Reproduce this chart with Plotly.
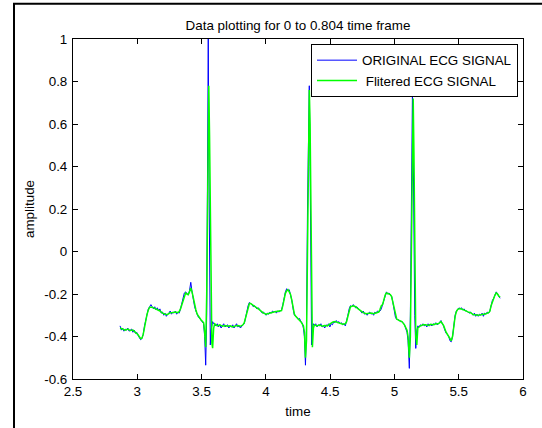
import plotly.graph_objects as go

# ---------------- data ----------------
blue_time = []
blue_amp = []
# baseline before first beat
blue_time += [2.866, 2.876, 2.886, 2.896, 2.906, 2.916, 2.926, 2.936, 2.946, 2.956, 2.966, 2.976, 2.986, 2.996]
blue_amp += [-0.35, -0.37, -0.36, -0.375, -0.365, -0.37, -0.36, -0.375, -0.37, -0.365, -0.38, -0.37, -0.385, -0.38]
blue_time += [3.006, 3.016, 3.026, 3.036, 3.046, 3.056, 3.066, 3.076, 3.086, 3.096, 3.106]
blue_amp += [-0.395, -0.405, -0.415, -0.41, -0.39, -0.35, -0.32, -0.29, -0.27, -0.26, -0.25]
blue_time += [3.116, 3.126, 3.136, 3.146, 3.156, 3.166, 3.176, 3.186, 3.196, 3.206, 3.216, 3.226, 3.236, 3.246, 3.256, 3.266, 3.276, 3.286, 3.296, 3.306, 3.316, 3.326]
blue_amp += [-0.26, -0.27, -0.26, -0.275, -0.265, -0.28, -0.27, -0.29, -0.285, -0.30, -0.29, -0.305, -0.295, -0.29, -0.28, -0.295, -0.285, -0.29, -0.28, -0.295, -0.285, -0.29]
blue_time += [3.336, 3.346, 3.356, 3.366, 3.376, 3.386, 3.396, 3.406, 3.416, 3.426, 3.436, 3.446, 3.456, 3.466, 3.476, 3.486, 3.496, 3.506, 3.516]
blue_amp += [-0.27, -0.24, -0.21, -0.195, -0.19, -0.2, -0.205, -0.185, -0.145, -0.19, -0.23, -0.26, -0.28, -0.30, -0.31, -0.315, -0.325, -0.33, -0.34]
# QRS 1
blue_time += [3.524, 3.532, 3.540, 3.548, 3.552, 3.556, 3.562, 3.568, 3.574, 3.580, 3.586, 3.594, 3.602]
blue_amp += [-0.40, -0.535, -0.30, 0.6, 1.0, 0.5, -0.1, -0.44, -0.37, -0.34, -0.33, -0.34, -0.345]
blue_time += [3.612, 3.622, 3.632, 3.642, 3.652, 3.662, 3.672, 3.682, 3.692, 3.702, 3.712, 3.722, 3.732, 3.742, 3.752, 3.762, 3.772, 3.782, 3.792, 3.802, 3.812, 3.822]
blue_amp += [-0.35, -0.34, -0.355, -0.345, -0.36, -0.35, -0.34, -0.355, -0.35, -0.345, -0.36, -0.35, -0.355, -0.345, -0.36, -0.35, -0.34, -0.355, -0.35, -0.36, -0.35, -0.345]
blue_time += [3.832, 3.842, 3.852, 3.862, 3.872, 3.882, 3.892, 3.902, 3.912, 3.922, 3.932, 3.942, 3.952, 3.962, 3.972, 3.982, 3.992, 4.002, 4.012, 4.022, 4.032, 4.042, 4.052, 4.062, 4.072, 4.082, 4.092, 4.102, 4.112, 4.122]
blue_amp += [-0.34, -0.31, -0.28, -0.255, -0.24, -0.245, -0.25, -0.26, -0.255, -0.265, -0.27, -0.265, -0.275, -0.28, -0.29, -0.285, -0.295, -0.30, -0.29, -0.295, -0.285, -0.29, -0.28, -0.285, -0.28, -0.29, -0.28, -0.285, -0.28, -0.275]
blue_time += [4.132, 4.142, 4.152, 4.162, 4.172, 4.182, 4.192, 4.202, 4.212, 4.222, 4.232, 4.242, 4.252, 4.262, 4.272, 4.282, 4.292]
blue_amp += [-0.25, -0.21, -0.19, -0.175, -0.185, -0.18, -0.2, -0.23, -0.27, -0.30, -0.305, -0.31, -0.32, -0.315, -0.33, -0.335, -0.36]
# QRS 2
blue_time += [4.300, 4.308, 4.316, 4.324, 4.332, 4.338, 4.344, 4.350, 4.356, 4.362, 4.370, 4.378]
blue_amp += [-0.40, -0.535, -0.35, 0.2, 0.65, 0.78, 0.4, -0.1, -0.44, -0.36, -0.34, -0.35]
blue_time += [4.388, 4.398, 4.408, 4.418, 4.428, 4.438, 4.448, 4.458, 4.468, 4.478, 4.488, 4.498, 4.508, 4.518, 4.528, 4.538, 4.548, 4.558, 4.568, 4.578, 4.588, 4.598, 4.608, 4.618, 4.628]
blue_amp += [-0.34, -0.355, -0.345, -0.35, -0.34, -0.355, -0.35, -0.36, -0.345, -0.35, -0.34, -0.355, -0.34, -0.345, -0.33, -0.335, -0.325, -0.335, -0.33, -0.34, -0.335, -0.345, -0.34, -0.35, -0.33]
blue_time += [4.638, 4.648, 4.658, 4.668, 4.678, 4.688, 4.698, 4.708, 4.718, 4.728, 4.738, 4.748, 4.758, 4.768, 4.778, 4.788, 4.798, 4.808, 4.818, 4.828, 4.838, 4.848, 4.858, 4.868, 4.878, 4.888, 4.898]
blue_amp += [-0.30, -0.27, -0.255, -0.26, -0.25, -0.255, -0.265, -0.26, -0.27, -0.275, -0.28, -0.29, -0.28, -0.295, -0.29, -0.30, -0.29, -0.285, -0.295, -0.29, -0.30, -0.285, -0.29, -0.28, -0.285, -0.28, -0.27]
blue_time += [4.908, 4.918, 4.928, 4.938, 4.948, 4.958, 4.968, 4.978, 4.988, 4.998, 5.008, 5.018, 5.028, 5.038, 5.048, 5.058, 5.068, 5.078, 5.088, 5.098]
blue_amp += [-0.25, -0.22, -0.2, -0.19, -0.2, -0.195, -0.205, -0.21, -0.24, -0.28, -0.31, -0.32, -0.32, -0.325, -0.33, -0.33, -0.335, -0.345, -0.36, -0.38]
# QRS 3
blue_time += [5.106, 5.116, 5.124, 5.132, 5.140, 5.146, 5.152, 5.158, 5.166, 5.174, 5.182]
blue_amp += [-0.42, -0.55, -0.3, 0.3, 0.74, 0.5, 0.0, -0.3, -0.456, -0.37, -0.35]
blue_time += [5.192, 5.202, 5.212, 5.222, 5.232, 5.242, 5.252, 5.262, 5.272, 5.282, 5.292, 5.302, 5.312, 5.322, 5.332, 5.342]
blue_amp += [-0.355, -0.345, -0.35, -0.34, -0.35, -0.345, -0.355, -0.34, -0.35, -0.345, -0.35, -0.34, -0.345, -0.335, -0.345, -0.34]
blue_time += [5.352, 5.362, 5.372, 5.382, 5.392, 5.402, 5.412, 5.422, 5.432, 5.442, 5.452, 5.462]
blue_amp += [-0.33, -0.325, -0.34, -0.35, -0.37, -0.385, -0.39, -0.40, -0.42, -0.425, -0.40, -0.34]
blue_time += [5.472, 5.482, 5.492, 5.502, 5.512, 5.522, 5.532, 5.542, 5.552, 5.562, 5.572, 5.582, 5.592, 5.602, 5.612, 5.622, 5.632, 5.642, 5.652, 5.662, 5.672, 5.682, 5.692, 5.702, 5.712, 5.722, 5.732, 5.742, 5.752, 5.762, 5.772, 5.782, 5.792, 5.802, 5.812, 5.822]
blue_amp += [-0.3, -0.28, -0.27, -0.265, -0.27, -0.265, -0.275, -0.27, -0.28, -0.28, -0.285, -0.29, -0.285, -0.295, -0.3, -0.29, -0.305, -0.295, -0.305, -0.295, -0.3, -0.29, -0.305, -0.29, -0.295, -0.285, -0.29, -0.28, -0.25, -0.23, -0.22, -0.2, -0.19, -0.2, -0.21, -0.22]

green_time = [
    2.866, 2.886, 2.906, 2.926, 2.946, 2.966, 2.986, 3.006, 3.026, 3.036, 3.046, 3.056, 3.066, 3.076, 3.086, 3.096,
    3.116, 3.136, 3.156, 3.176, 3.196, 3.216, 3.236, 3.256, 3.276, 3.296, 3.316, 3.326, 3.336, 3.346, 3.356, 3.366,
    3.376, 3.386, 3.396, 3.406, 3.416, 3.426, 3.436, 3.446, 3.456, 3.466, 3.476, 3.486, 3.496, 3.506, 3.516,
    3.524, 3.532, 3.540, 3.548, 3.552, 3.556, 3.562, 3.568, 3.574, 3.580, 3.586, 3.594, 3.602,
    3.622, 3.642, 3.662, 3.682, 3.702, 3.722, 3.742, 3.762, 3.782, 3.802, 3.822, 3.832, 3.842, 3.852, 3.862, 3.872,
    3.882, 3.902, 3.922, 3.942, 3.962, 3.982, 4.002, 4.022, 4.042, 4.062, 4.082, 4.102, 4.122, 4.132, 4.142, 4.152,
    4.162, 4.172, 4.182, 4.192, 4.202, 4.212, 4.222, 4.232, 4.252, 4.272, 4.292,
    4.300, 4.308, 4.316, 4.324, 4.332, 4.338, 4.344, 4.350, 4.356, 4.362, 4.370, 4.378,
    4.398, 4.418, 4.438, 4.458, 4.478, 4.498, 4.518, 4.538, 4.558, 4.578, 4.598, 4.618, 4.628, 4.638, 4.648, 4.658,
    4.678, 4.698, 4.718, 4.738, 4.758, 4.778, 4.798, 4.818, 4.838, 4.858, 4.878, 4.888, 4.898, 4.908, 4.918, 4.928,
    4.938, 4.948, 4.958, 4.968, 4.978, 4.988, 4.998, 5.008, 5.018, 5.038, 5.058, 5.078, 5.098,
    5.106, 5.116, 5.124, 5.132, 5.140, 5.146, 5.152, 5.158, 5.166, 5.174, 5.182,
    5.202, 5.222, 5.242, 5.262, 5.282, 5.302, 5.322, 5.342, 5.362, 5.382, 5.402, 5.422, 5.442, 5.452, 5.462, 5.472,
    5.482, 5.492, 5.512, 5.532, 5.552, 5.572, 5.592, 5.612, 5.632, 5.652, 5.672, 5.692, 5.712, 5.732, 5.742, 5.752,
    5.762, 5.772, 5.782, 5.792, 5.802, 5.812, 5.822,
]
green_amp = [
    -0.36, -0.365, -0.37, -0.365, -0.372, -0.37, -0.38, -0.392, -0.41, -0.408, -0.39, -0.355, -0.325, -0.295, -0.275, -0.262,
    -0.262, -0.268, -0.272, -0.28, -0.29, -0.295, -0.296, -0.288, -0.287, -0.285, -0.288, -0.283, -0.27, -0.25, -0.225, -0.205,
    -0.195, -0.2, -0.203, -0.19, -0.172, -0.19, -0.225, -0.255, -0.275, -0.295, -0.305, -0.315, -0.322, -0.328, -0.335,
    -0.38, -0.45, -0.2, 0.35, 0.6, 0.78, 0.55, 0.1, -0.25, -0.43, -0.455, -0.36, -0.34,
    -0.35, -0.345, -0.352, -0.348, -0.352, -0.35, -0.355, -0.35, -0.348, -0.352, -0.345, -0.335, -0.31, -0.285, -0.26, -0.245,
    -0.245, -0.255, -0.262, -0.27, -0.28, -0.29, -0.295, -0.29, -0.288, -0.285, -0.283, -0.282, -0.278, -0.255, -0.22, -0.197,
    -0.185, -0.18, -0.19, -0.202, -0.23, -0.265, -0.295, -0.305, -0.318, -0.33, -0.35,
    -0.38, -0.50, -0.42, 0.0, 0.5, 0.76, 0.6, 0.1, -0.35, -0.45, -0.36, -0.345,
    -0.35, -0.345, -0.352, -0.348, -0.35, -0.342, -0.333, -0.33, -0.335, -0.337, -0.342, -0.34, -0.33, -0.305, -0.275, -0.26,
    -0.255, -0.26, -0.27, -0.28, -0.288, -0.293, -0.292, -0.29, -0.293, -0.29, -0.285, -0.272, -0.255, -0.25, -0.225, -0.205,
    -0.195, -0.198, -0.198, -0.203, -0.212, -0.238, -0.275, -0.305, -0.318, -0.325, -0.33, -0.345, -0.37,
    -0.40, -0.50, -0.40, 0.05, 0.5, 0.72, 0.45, 0.0, -0.40, -0.44, -0.36,
    -0.35, -0.345, -0.345, -0.348, -0.343, -0.345, -0.34, -0.34, -0.33, -0.348, -0.38, -0.40, -0.42, -0.40, -0.345, -0.305,
    -0.283, -0.272, -0.268, -0.272, -0.278, -0.284, -0.288, -0.297, -0.3, -0.3, -0.298, -0.297, -0.293, -0.288, -0.282, -0.255,
    -0.235, -0.22, -0.205, -0.195, -0.2, -0.21, -0.215,
]

assert len(blue_time) == len(blue_amp), (len(blue_time), len(blue_amp))
assert len(green_time) == len(green_amp), (len(green_time), len(green_amp))

x_tick_vals = [2.5, 3, 3.5, 4, 4.5, 5, 5.5, 6]
x_tick_text = ["2.5", "3", "3.5", "4", "4.5", "5", "5.5", "6"]
y_tick_vals = [-0.6, -0.4, -0.2, 0, 0.2, 0.4, 0.6, 0.8, 1]
y_tick_text = ["-0.6", "-0.4", "-0.2", "0", "0.2", "0.4", "0.6", "0.8", "1"]

# ---------------- figure ----------------
FONT = "Liberation Sans, Arial, sans-serif"
FS = 13.4
W, H = 542, 428
L, R, T, B = 73, 19, 39, 46
pw, ph = W - L - R, H - T - B

fig = go.Figure()
fig.add_trace(go.Scatter(x=blue_time, y=blue_amp, mode="lines", name="ORIGINAL ECG SIGNAL",
                         line=dict(color="#0000FF", width=1)))
fig.add_trace(go.Scatter(x=green_time, y=green_amp, mode="lines", name="\u00a0Flitered ECG SIGNAL",
                         line=dict(color="#00FF00", width=1.5)))

axis_common = dict(showline=True, linecolor="black", linewidth=1, mirror="ticks",
                   ticks="inside", ticklen=5, tickcolor="black", showgrid=False, zeroline=False,
                   tickfont=dict(family=FONT, size=FS, color="black"))

fig.update_layout(
    width=W, height=H,
    margin=dict(l=L, r=R, t=T, b=B),
    paper_bgcolor="white", plot_bgcolor="white",
    font=dict(family=FONT, size=FS, color="black"),
    title=dict(text="Data plotting for 0 to 0.804 time frame", xref="paper", x=0.5, xanchor="center",
               yref="container", y=1 - 25 / H, yanchor="middle", font=dict(family=FONT, size=FS, color="black")),
    xaxis=dict(range=[2.5, 6], tickvals=x_tick_vals, ticktext=x_tick_text,
               title=dict(text="time", standoff=8, font=dict(family=FONT, size=FS)), **axis_common),
    yaxis=dict(range=[-0.6, 1], tickvals=y_tick_vals, ticktext=y_tick_text, ticklabelstandoff=2,
               title=dict(text="amplitude", standoff=6, font=dict(family=FONT, size=FS)), **axis_common),
    legend=dict(x=(518 - L) / pw, xanchor="right", y=(H - B - 44) / ph, yanchor="top",
                bgcolor="white", bordercolor="black", borderwidth=1,
                font=dict(family=FONT, size=FS, color="black"), itemwidth=40, tracegroupgap=0),
    showlegend=True,
)

# outer figure frame (partially visible, as in the reference)
fig.add_shape(type="rect", xref="paper", yref="paper",
              x0=(14 - L) / pw, x1=(560 - L) / pw,
              y0=(H - B - 440) / ph, y1=(H - B - 3.5) / ph,
              line=dict(color="black", width=2), fillcolor="rgba(0,0,0,0)", layer="above")

fig.write_html("out.html", config={"displayModeBar": False},
               post_script="document.body.style.margin='0';")
